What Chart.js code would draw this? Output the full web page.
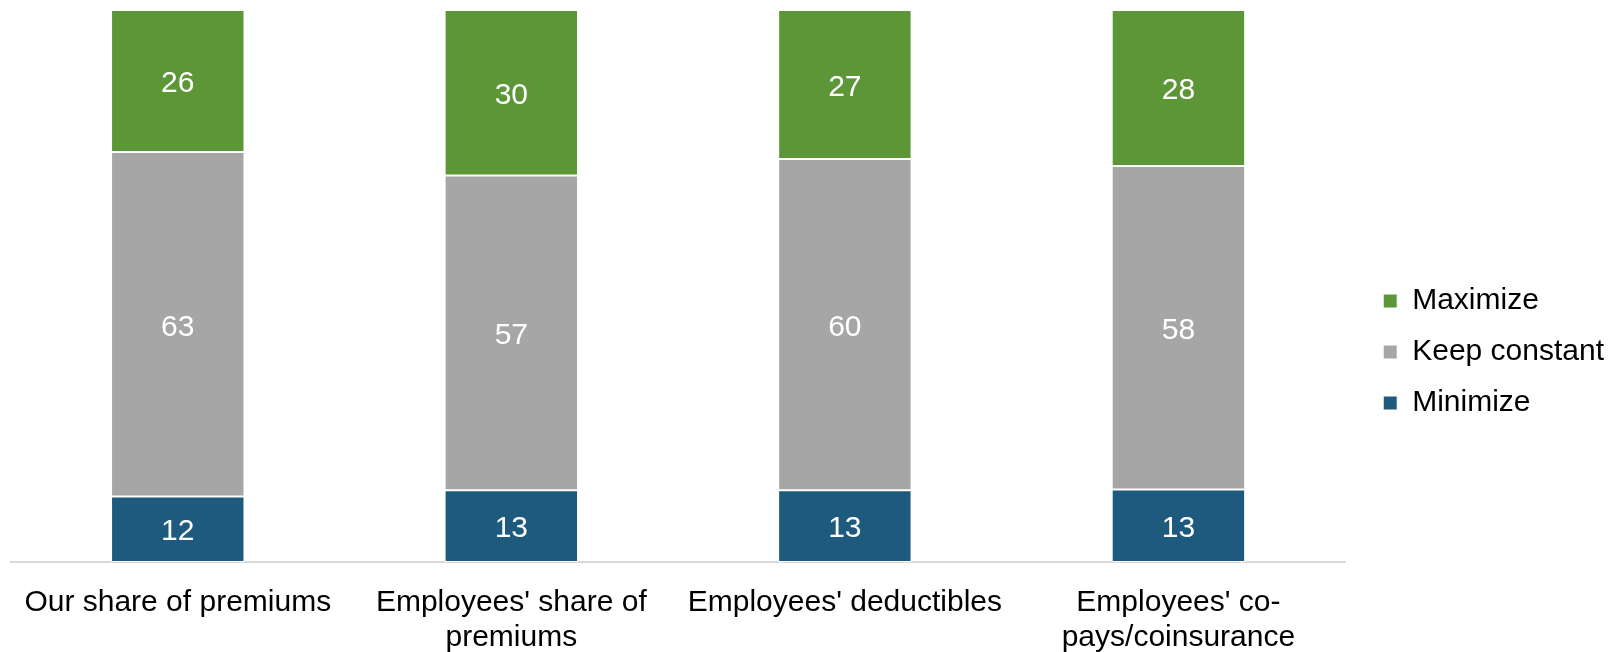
<!DOCTYPE html>
<html>
<head>
<meta charset="utf-8">
<script src="https://cdn.jsdelivr.net/npm/chart.js@4"></script>
<style>
    html, body { margin: 0; padding: 0; background: #fff; }
    #wrap { width: 1614px; height: 652px; }
</style>
</head>
<body>
<div id="wrap"><canvas id="chartStrategi"></canvas></div>
<script>
// ===== Data =====
const kategori = [
    'Our share of premiums',
    ["Employees' share of", 'premiums'],
    "Employees' deductibles",
    ["Employees' co-", 'pays/coinsurance']
];
const minimize = [12, 13, 13, 13];
const keepConstant = [63, 57, 60, 58];
const maximize = [26, 30, 27, 28];

// each bar fills 100% of its category
const totals = minimize.map((v, i) => v + keepConstant[i] + maximize[i]);
const share = arr => arr.map((v, i) => v / totals[i] * 100);

const FONT = "'Liberation Sans', Arial, sans-serif";

// ===== Label nilai di tengah tiap segmen =====
const segmentLabels = {
    id: 'segmentLabels',
    afterDatasetsDraw(chart) {
        const ctx = chart.ctx;
        ctx.save();
        ctx.font = '30px ' + FONT;
        ctx.fillStyle = '#ffffff';
        ctx.textAlign = 'center';
        ctx.textBaseline = 'middle';
        chart.data.datasets.forEach((ds, di) => {
            const meta = chart.getDatasetMeta(di);
            meta.data.forEach((bar, i) => {
                const p = bar.getProps(['x', 'y', 'base'], true);
                ctx.fillText(String(ds.raw[i]), p.x, (p.y + p.base) / 2 + 3);
            });
        });
        ctx.restore();
    }
};

document.addEventListener('DOMContentLoaded', function () {
    const ctx = document.getElementById('chartStrategi');
    new Chart(ctx, {
        type: 'bar',
        data: {
            labels: kategori,
            datasets: [
                { label: 'Minimize', raw: minimize, data: share(minimize), backgroundColor: '#1E5A7D' },
                { label: 'Keep constant', raw: keepConstant, data: share(keepConstant), backgroundColor: '#A6A6A6' },
                { label: 'Maximize', raw: maximize, data: share(maximize), backgroundColor: '#5C9637' }
            ]
        },
        options: {
            responsive: true,
            maintainAspectRatio: false,
            animation: false,
            datasets: {
                bar: {
                    categoryPercentage: 1,
                    barPercentage: 0.4,
                    borderColor: '#ffffff',
                    borderWidth: 1,
                    borderSkipped: false
                }
            },
            layout: {
                padding: { left: 11, top: 10, right: 0, bottom: 0 }
            },
            plugins: {
                tooltip: { enabled: false },
                legend: {
                    position: 'right',
                    reverse: true,
                    title: { display: true, text: '', font: { size: 10 }, padding: { top: 30, bottom: 0 } },
                    labels: {
                        boxWidth: 14,
                        boxHeight: 14,
                        padding: 21,
                        color: '#000',
                        font: { family: FONT, size: 30 }
                    }
                }
            },
            scales: {
                x: {
                    stacked: true,
                    grid: { display: false, drawTicks: false },
                    border: { display: true, color: '#D9D9D9', width: 2 },
                    ticks: {
                        color: '#000',
                        padding: 23,
                        maxRotation: 0,
                        autoSkip: false,
                        font: { family: FONT, size: 30, lineHeight: 1.167 }
                    },
                    afterFit: scale => { scale.height = 90; }
                },
                y: {
                    stacked: true,
                    position: 'right',
                    min: 0,
                    max: 100,
                    grid: { display: false },
                    border: { display: false },
                    ticks: { display: false },
                    afterFit: scale => { scale.width = 17; }
                }
            }
        },
        plugins: [segmentLabels]
    });
});
</script>
</body>
</html>
